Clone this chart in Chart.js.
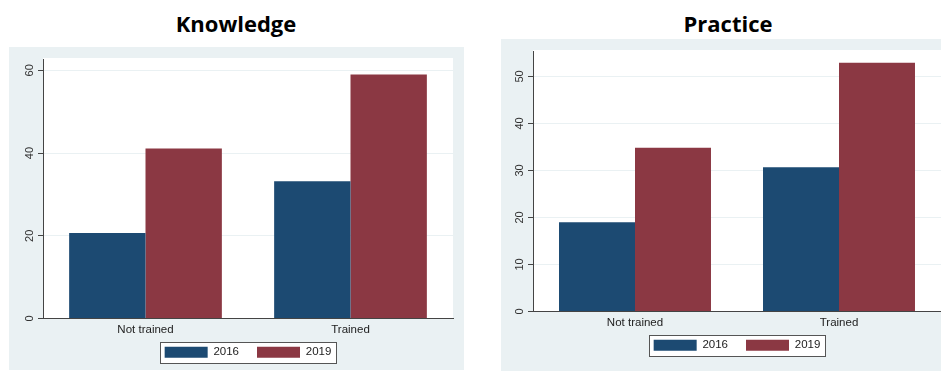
<!DOCTYPE html>
<html lang="en">
<head>
    <meta charset="UTF-8">
    <title>Knowledge and Practice</title>
    <script src="https://cdn.jsdelivr.net/npm/chart.js"></script>
    <style>
        html, body { margin: 0; padding: 0; background: #fff; overflow: hidden; }
        body { width: 941px; height: 371px; position: relative; }
        .panel { position: absolute; background: #eaf1f3; }
        .title {
            position: absolute; top: 12px; width: 240px; text-align: center; line-height: 22px;
            font-family: "Open Sans", sans-serif; font-weight: 700; font-size: 22px; color: #000;
        }
        canvas { position: absolute; }
    </style>
</head>
<body>
<div class="title" style="left: 116px;">Knowledge</div>
<div class="title" style="left: 608px;">Practice</div>
<div class="panel" style="left: 9px; top: 47px; width: 455px; height: 323px;"></div>
<div class="panel" style="left: 501px; top: 39px; width: 440px; height: 332px;"></div>
<canvas id="knowledge-chart" width="455" height="321" style="left: 9px; top: 47px;"></canvas>
<canvas id="practice-chart" width="440" height="322" style="left: 501px; top: 39px;"></canvas>

<script>
    const categories = ['Not trained', 'Trained'];
    const seriesNames = ['2016', '2019'];

    const knowledge2016 = [20.7, 33.2];
    const knowledge2019 = [41.1, 59.0];
    const knowledgeTicks = [0, 20, 40, 60];

    const practice2016 = [19.0, 30.7];
    const practice2019 = [34.8, 52.9];
    const practiceTicks = [0, 10, 20, 30, 40, 50];

    const navy = '#1c4a72';
    const maroon = '#8b3843';
    const axisColor = '#444';
    const font = "'Liberation Sans', Arial, sans-serif";

    // white plot region, boxed legend, rotated y labels, x labels
    const stataLook = {
        id: 'stataLook',
        beforeDraw(chart) {
            const a = chart.chartArea;
            const ctx = chart.ctx;
            ctx.save();
            ctx.fillStyle = '#fff';
            ctx.fillRect(a.left, a.top - 1, a.right - a.left, a.bottom - a.top + 1);
            const boxes = chart.legend.legendHitBoxes;
            if (boxes && boxes.length) {
                const first = boxes[0], last = boxes[boxes.length - 1];
                const x0 = Math.round(first.left - 5) + 0.5;
                const y0 = Math.round(first.top - 5) + 0.5;
                const x1 = Math.round(last.left + last.width + 5) + 0.5;
                const y1 = Math.round(first.top + first.height + 5) + 0.5;
                ctx.fillStyle = '#fff';
                ctx.fillRect(x0, y0, x1 - x0, y1 - y0);
                ctx.strokeStyle = '#555';
                ctx.lineWidth = 1;
                ctx.strokeRect(x0, y0, x1 - x0, y1 - y0);
            }
            ctx.restore();
        },
        afterDraw(chart, args, opts) {
            const y = chart.scales.y;
            const x = chart.scales.x;
            const ctx = chart.ctx;
            ctx.save();
            ctx.fillStyle = '#333';
            ctx.font = '11px ' + font;
            ctx.textAlign = 'center';
            ctx.textBaseline = 'middle';
            y.ticks.forEach(t => {
                const py = y.getPixelForValue(t.value);
                ctx.save();
                ctx.translate(opts.labelX, py);
                ctx.rotate(-Math.PI / 2);
                ctx.fillText(String(t.value), 0, 0);
                ctx.restore();
            });
            ctx.fillStyle = '#222';
            ctx.font = '11.5px ' + font;
            categories.forEach((c, i) => {
                ctx.fillText(c, x.getPixelForValue(i), chart.chartArea.bottom + 11.5);
            });
            ctx.restore();
        }
    };

    function makeChart(id, values2016, values2019, ticks, yMax, pad, axisWidth, labelX) {
        const ctx = document.getElementById(id).getContext('2d');
        return new Chart(ctx, {
            type: 'bar',
            data: {
                labels: categories,
                datasets: [
                    { label: seriesNames[0], data: values2016, backgroundColor: navy, borderWidth: 0 },
                    { label: seriesNames[1], data: values2019, backgroundColor: maroon, borderWidth: 0 }
                ]
            },
            plugins: [stataLook],
            options: {
                responsive: false,
                animation: false,
                devicePixelRatio: 1,
                layout: { padding: pad },
                datasets: { bar: { categoryPercentage: 0.745, barPercentage: 1.0 } },
                scales: {
                    x: {
                        grid: { display: false },
                        border: { display: true, color: axisColor, width: 1, z: 1 },
                        ticks: { display: false },
                        afterFit(scale) { scale.height = 10; }
                    },
                    y: {
                        min: 0,
                        max: yMax,
                        afterBuildTicks(scale) { scale.ticks = ticks.map(v => ({ value: v })); },
                        ticks: { display: false },
                        grid: { color: '#eaf1f3', lineWidth: 1, tickLength: 5, tickColor: axisColor },
                        border: { display: true, color: axisColor, width: 1, z: 1 },
                        afterFit(scale) { scale.width = axisWidth; }
                    }
                },
                plugins: {
                    title: { display: false },
                    tooltip: { enabled: false },
                    stataLook: { labelX: labelX },
                    legend: {
                        position: 'bottom',
                        fullSize: false,
                        labels: {
                            boxWidth: 43,
                            boxHeight: 11,
                            padding: 18,
                            color: '#222',
                            font: { family: font, size: 11.5 }
                        }
                    }
                }
            }
        });
    }

    makeChart('knowledge-chart', knowledge2016, knowledge2019, knowledgeTicks, 62.75,
        { top: 12, right: 11, left: 0, bottom: 0 }, 34, 21);
    makeChart('practice-chart', practice2016, practice2019, practiceTicks, 55.4,
        { top: 12, right: 0, left: 0, bottom: 0 }, 32, 19);
</script>
</body>
</html>
